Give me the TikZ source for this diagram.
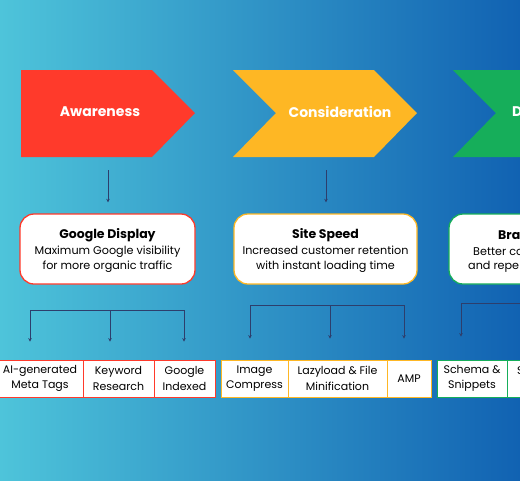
\documentclass[tikz,border=0pt]{standalone}
\usepackage{fontspec}
\setmainfont{Poppins}
\usetikzlibrary{arrows.meta,positioning}
\definecolor{funred}{RGB}{255,58,43}
\definecolor{funyellow}{RGB}{254,183,36}
\definecolor{fungreen}{RGB}{22,174,90}
\definecolor{bgleft}{RGB}{78,196,218}
\definecolor{bgright}{RGB}{17,98,178}
\definecolor{wire}{RGB}{45,62,108}

\begin{document}
\begin{tikzpicture}[x=1pt, y=-1pt,
    stage/.style={font=\fontsize{14}{16}\selectfont\bfseries, text=white},
    card/.style={rectangle, line width=1.3pt, fill=white, rounded corners=14pt,
               minimum height=70pt, align=center, font=\fontsize{11.2}{15.5}\selectfont},
    cell/.style={rectangle, line width=0.9pt, fill=white, minimum height=37pt,
               align=center, font=\fontsize{11}{15.5}\selectfont, inner sep=0pt},
    part/.style={anchor=west, inner sep=0pt},
    arr/.style={-{Stealth[length=3.5pt,width=3.5pt]}, wire, line width=1pt}
]
    \clip (0,0) rectangle (520,480);
    \shade[left color=bgleft, right color=bgright] (0,0) rectangle (520,480);

    % Funnel stages
    \fill[funred] (21,70) -- (152,70) -- (195,113) -- (152,157) -- (21,157) -- cycle;
    \fill[funyellow] (233,70) -- (374,70) -- (417,113) -- (374,157) -- (233,157) -- (276,113) -- cycle;
    \fill[fungreen] (453,70) -- (640,70) -- (640,157) -- (453,157) -- (496,113) -- cycle;
    \node[stage] (aw) at (100,112) {Awareness};
    \node[stage] (co) at (340,112) {Consideration};
    \node[stage, part] (de) at (512,112) {D};
    \coordinate (aw-s) at (108,157);
    \coordinate (co-s) at (326,157);

    % Benefit cards
    \node[card, draw=funred, minimum width=175pt] (gd) at (107.5,249) {};
    \node[align=center, font=\fontsize{11.2}{15.5}\selectfont] (gd-t) at (107.5,251)
        {{\bfseries\fontsize{12.5}{16}\selectfont Google Display}\\Maximum Google visibility\\for more organic traffic};
    \node[card, draw=funyellow, minimum width=183pt] (ss) at (325.5,249) {};
    \node[align=center, font=\fontsize{11.2}{15.5}\selectfont] (ss-t) at (325.5,251)
        {{\bfseries\fontsize{12.5}{16}\selectfont Site Speed}\\Increased customer retention\\with instant loading time};
    \node[card, draw=fungreen, minimum width=175pt] (br) at (536.5,249) {};
    \node[part, font=\fontsize{12.5}{16}\selectfont\bfseries] (br-t) at (498,235) {Bra};
    \node[part, font=\fontsize{11.2}{15}\selectfont] (br-a) at (473,252) {Better co};
    \node[part, font=\fontsize{11.2}{15}\selectfont] (br-b) at (468,267) {and repe};
    \draw[arr, shorten <=13pt, shorten >=11pt] (aw-s) -- (aw-s |- gd.north);
    \draw[arr, shorten <=13pt, shorten >=11pt] (co-s) -- (co-s |- ss.north);

    % Tactics
    \node[cell, draw=funred, minimum width=86pt] (mt) at (40,378.5) {AI-generated\\Meta Tags};
    \node[cell, draw=funred, minimum width=71pt] (kr) at (118.5,378.5) {Keyword\\Research};
    \node[cell, draw=funred, minimum width=61pt] (gi) at (184.5,378.5) {Google\\Indexed};
    \node[cell, draw=funyellow, minimum width=67pt] (ic) at (254.5,378.5) {Image\\Compress};
    \node[cell, draw=funyellow, minimum width=99pt] (lf) at (337.5,378.5) {Lazyload \& File\\Minification};
    \node[cell, draw=funyellow, minimum width=44pt] (amp) at (409,378.5) {AMP};
    \node[cell, draw=fungreen, minimum width=70pt] (sc) at (472,378.5) {Schema \&\\Snippets};
    \node[cell, draw=fungreen, minimum width=70pt] (nx) at (542,378.5) {};
    \node[part, font=\fontsize{11}{15}\selectfont] (nx-t) at (517,371) {S};

    % Brackets
    \coordinate (r1) at (30,310);  \coordinate (r2) at (110,310); \coordinate (r3) at (184,310);
    \coordinate (y1) at (250,305); \coordinate (y2) at (330,305); \coordinate (y3) at (404,305);
    \coordinate (g1) at (461,303); \coordinate (g2) at (600,303);
    \draw[wire, line width=1pt] (r1) -- (r3);
    \draw[wire, line width=1pt] (y1) -- (y3);
    \draw[wire, line width=1pt] (g1) -- (g2);
    \foreach \c in {r1,r2,r3}
        \draw[arr, shorten >=18pt] (\c) -- (\c |- mt.north);
    \foreach \c in {y1,y2,y3}
        \draw[arr, shorten >=21pt] (\c) -- (\c |- ic.north);
    \draw[arr, shorten >=23pt] (g1) -- (g1 |- sc.north);
\end{tikzpicture}
\end{document}
